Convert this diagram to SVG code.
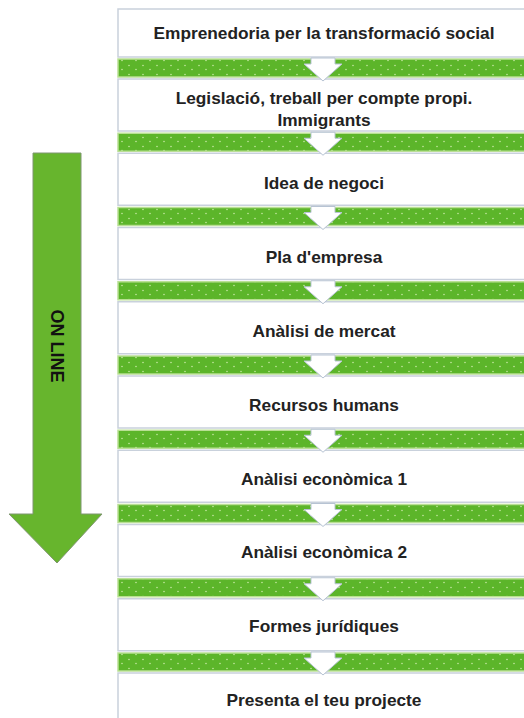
<svg xmlns="http://www.w3.org/2000/svg" width="524" height="718" viewBox="0 0 524 718">
<defs>
<pattern id="dots" x="0" y="0" width="14" height="9" patternUnits="userSpaceOnUse">
<rect width="14" height="9" fill="#5cb52a"/>
<circle cx="3" cy="2.5" r="0.8" fill="#c4e8a0"/>
<circle cx="10" cy="6.5" r="0.8" fill="#c4e8a0"/>
</pattern>
<style>
.box{fill:#ffffff;stroke:#c9d1dc;stroke-width:1.5}
.band{fill:url(#dots);stroke:#b9df94;stroke-width:1.5}
.chev{fill:#ffffff;stroke:#b7c3d3;stroke-width:1}
.t{font-family:"Liberation Sans","DejaVu Sans",sans-serif;font-size:17.3px;font-weight:bold;fill:#222222;text-anchor:middle}
.big{font-family:"Liberation Sans","DejaVu Sans",sans-serif;font-size:18px;font-weight:bold;fill:#111111;text-anchor:middle}
</style>
</defs>
<rect width="524" height="718" fill="#ffffff"/>

<g id="online-arrow">
<polygon points="33,153 81,153 81,514 102,514 57,563 9,514 33,514" fill="#67b52d" stroke="#7f9670" stroke-width="1"/>
<text class="big" transform="translate(51,346) rotate(90)">ON LINE</text>
</g>

<g id="n1"><rect class="box" x="118" y="9" width="420" height="48"/><text class="t" x="324" y="39">Emprenedoria per la transformació social</text></g>
<g id="n2"><rect class="box" x="118" y="79" width="420" height="52"/><text class="t" x="324" y="104">Legislació,  treball per compte propi.</text><text class="t" x="324" y="126">Immigrants</text></g>
<g id="n3"><rect class="box" x="118" y="153.25" width="420" height="52"/><text class="t" x="324" y="189">Idea de negoci</text></g>
<g id="n4"><rect class="box" x="118" y="227.5" width="420" height="52"/><text class="t" x="324" y="263">Pla d'empresa</text></g>
<g id="n5"><rect class="box" x="118" y="301.75" width="420" height="52"/><text class="t" x="324" y="337">Anàlisi de mercat</text></g>
<g id="n6"><rect class="box" x="118" y="376" width="420" height="52"/><text class="t" x="324" y="411">Recursos humans</text></g>
<g id="n7"><rect class="box" x="118" y="450.25" width="420" height="52"/><text class="t" x="324" y="485">Anàlisi econòmica  1</text></g>
<g id="n8"><rect class="box" x="118" y="524.5" width="420" height="52"/><text class="t" x="324" y="558">Anàlisi econòmica 2</text></g>
<g id="n9"><rect class="box" x="118" y="598.75" width="420" height="52"/><text class="t" x="324" y="632">Formes jurídiques</text></g>
<g id="n10"><rect class="box" x="118" y="673" width="420" height="60"/><text class="t" x="324" y="706">Presenta el teu projecte</text></g>

<g id="connectors">
<rect class="band" x="118" y="59" width="420" height="18"/>
<rect class="band" x="118" y="133.25" width="420" height="18"/>
<rect class="band" x="118" y="207.5" width="420" height="18"/>
<rect class="band" x="118" y="281.75" width="420" height="18"/>
<rect class="band" x="118" y="356" width="420" height="18"/>
<rect class="band" x="118" y="430.25" width="420" height="18"/>
<rect class="band" x="118" y="504.5" width="420" height="18"/>
<rect class="band" x="118" y="578.75" width="420" height="18"/>
<rect class="band" x="118" y="653" width="420" height="18"/>
<polygon class="chev" points="311,58 335,58 335,64 342,64 323,81 304,64 311,64"/>
<polygon class="chev" points="311,132.25 335,132.25 335,138.25 342,138.25 323,155.25 304,138.25 311,138.25"/>
<polygon class="chev" points="311,206.5 335,206.5 335,212.5 342,212.5 323,229.5 304,212.5 311,212.5"/>
<polygon class="chev" points="311,280.75 335,280.75 335,286.75 342,286.75 323,303.75 304,286.75 311,286.75"/>
<polygon class="chev" points="311,355 335,355 335,361 342,361 323,378 304,361 311,361"/>
<polygon class="chev" points="311,429.25 335,429.25 335,435.25 342,435.25 323,452.25 304,435.25 311,435.25"/>
<polygon class="chev" points="311,503.5 335,503.5 335,509.5 342,509.5 323,526.5 304,509.5 311,509.5"/>
<polygon class="chev" points="311,577.75 335,577.75 335,583.75 342,583.75 323,600.75 304,583.75 311,583.75"/>
<polygon class="chev" points="311,652 335,652 335,658 342,658 323,675 304,658 311,658"/>
</g>
</svg>
